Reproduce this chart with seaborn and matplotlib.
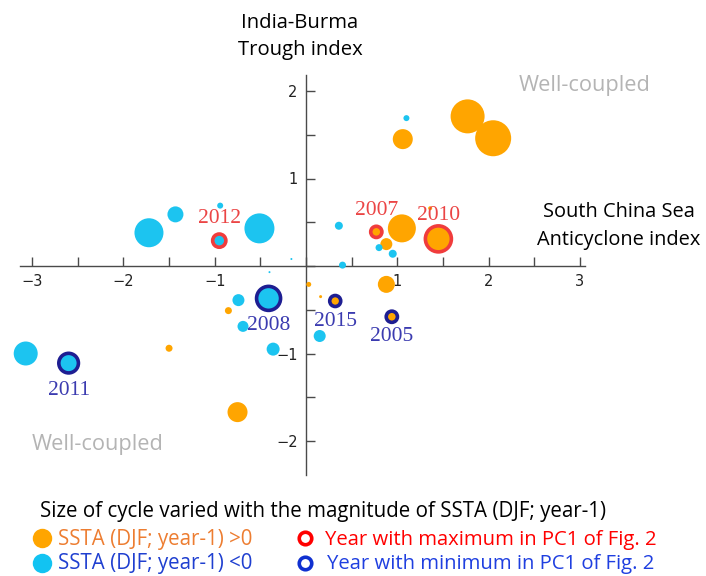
import numpy as np
import pandas as pd
import matplotlib
matplotlib.use("Agg")
import matplotlib.pyplot as plt
import seaborn as sns
from matplotlib.lines import Line2D

# ---------------- data ----------------
# South China Sea Anticyclone index (x), India-Burma Trough index (y),
# SSTA (DJF; year-1) (sign -> colour, magnitude -> circle size)
sca_index = [1.77, 2.05, 1.06, 1.05, 1.36, 0.88, 0.88, 0.03, 0.16, -0.85, -1.50, -0.75,
             0.77, 1.45, 0.32, 0.94,
             -1.72, -1.43, -0.94, -0.51, -0.16, -0.40, 0.36, 0.40, 1.10, 0.80, 0.95,
             -0.74, -0.69, 0.15, -0.36, -3.07,
             -0.95, -0.41, -2.60]
ibt_index = [1.71, 1.46, 1.45, 0.43, 0.66, 0.25, -0.21, -0.21, -0.35, -0.51, -0.94, -1.67,
             0.39, 0.31, -0.40, -0.58,
             0.38, 0.59, 0.69, 0.43, 0.08, -0.07, 0.46, 0.01, 1.69, 0.21, 0.14,
             -0.39, -0.69, -0.80, -0.95, -1.00,
             0.29, -0.37, -1.11]
ssta = [1.7, 1.8, 1.0, 1.4, 0.2, 0.6, 0.85, 0.25, 0.15, 0.35, 0.35, 1.0,
        0.56, 1.3, 0.55, 0.56,
        -1.45, -0.8, -0.3, -1.5, -0.1, -0.1, -0.4, -0.35, -0.3, -0.35, -0.4,
        -0.6, -0.55, -0.6, -0.65, -1.2,
        -0.66, -1.2, -0.98]
pc1_extreme = [""] * 12 + ["max", "max", "min", "min"] + [""] * 16 + ["max", "min", "min"]
year_label = [""] * 12 + ["2007", "2010", "2015", "2005"] + [""] * 16 + ["2012", "2008", "2011"]

x_ticks = [-3, -2, -1, 0, 1, 2, 3]
x_ticklabels = ["\u22123", "\u22122", "\u22121", "", "1", "2", "3"]
y_ticks = [-2, -1, 0, 1, 2]
y_ticklabels = ["\u22122", "\u22121", "", "1", "2"]

# ---------------- style ----------------
ORANGE = "#FFA500"
CYAN = "#1CC4F0"
RING_MAX = "#F03C3C"
RING_MIN = "#1E1E92"
LAB_MAX = "#EB4545"
LAB_MIN = "#3B3BB0"
AXC = "#4a4a4a"

sns.set_theme(style="white")
plt.rcParams["font.family"] = ["Open Sans", "DejaVu Sans"]

W, H = 706, 576
fig = plt.figure(figsize=(W / 100, H / 100), dpi=100)

x0px, ux = 306.0, 91.3
y0px, uy = 266.0, 87.5
L, R, T, B = 15, 600, 70, 480
ax = fig.add_axes([L / W, 1 - B / H, (R - L) / W, (B - T) / H])
ax.set_xlim((L - x0px) / ux, (R - x0px) / ux)
ax.set_ylim((y0px - B) / uy, (y0px - T) / uy)
ax.patch.set_alpha(0)

df = pd.DataFrame({"sca": sca_index, "ibt": ibt_index, "ssta": ssta,
                   "pc1": pc1_extreme, "year": year_label})
df["sign"] = np.where(df["ssta"] > 0, "pos", "neg")
df["mag2"] = df["ssta"] ** 2
M = df["mag2"].max()
K = (20 * 0.72) ** 2  # area (pt^2) per unit SSTA^2 -> diameter ~20 px per unit
sizes = (0, K * M)
size_norm = (0, M)

sns.scatterplot(data=df, x="sca", y="ibt", hue="sign",
                palette={"pos": ORANGE, "neg": CYAN},
                size="mag2", sizes=sizes, size_norm=size_norm,
                linewidth=0, legend=False, ax=ax, zorder=3, clip_on=False)

for kind, col in [("max", RING_MAX), ("min", RING_MIN)]:
    sub = df[df["pc1"] == kind]
    sns.scatterplot(data=sub, x="sca", y="ibt", size="mag2", sizes=sizes,
                    size_norm=size_norm, facecolor="none", edgecolor=col,
                    linewidth=2.6, legend=False, ax=ax, zorder=4, clip_on=False)

label_offset_px = {"2012": 22, "2007": 21, "2010": 23,
                   "2008": -27, "2011": -27, "2015": -20, "2005": -20}
for _, r in df[df["year"] != ""].iterrows():
    col = LAB_MAX if r["pc1"] == "max" else LAB_MIN
    ax.annotate(r["year"], (r["sca"], r["ibt"]),
                xytext=(0, label_offset_px[r["year"]]), textcoords="offset pixels",
                ha="center", va="center", color=col, fontsize=15.5,
                family="Liberation Serif", zorder=5)

# axes through the origin
for s in ["top", "right"]:
    ax.spines[s].set_visible(False)
for s in ["left", "bottom"]:
    ax.spines[s].set_position(("data", 0))
    ax.spines[s].set_color(AXC)
    ax.spines[s].set_linewidth(1.0)
    ax.spines[s].set_zorder(2)
ax.spines["bottom"].set_bounds(-3.13, 3.06)
ax.spines["left"].set_bounds(-2.39, 2.18)

ax.set_xticks(x_ticks)
ax.set_xticklabels(x_ticklabels)
ax.set_yticks(y_ticks)
ax.set_yticklabels(y_ticklabels)
ax.set_xticks(np.arange(-2.5, 3.0, 1.0), minor=True)
ax.set_yticks(np.arange(-1.5, 2.0, 1.0), minor=True)
ax.tick_params(which="both", direction="in", length=6.2, width=1.0, color=AXC,
               bottom=True, left=True, top=False, right=False)
ax.tick_params(which="major", pad=6, labelsize=10.5, labelcolor="#222222")
for t in ax.get_xticklabels() + ax.get_yticklabels():
    t.set_family("DejaVu Sans")
ax.set_xlabel("")
ax.set_ylabel("")
ax.grid(False)

# ---------------- annotation texts ----------------
def ft(xp, yp, s, **kw):
    fig.text(xp / W, 1 - yp / H, s, **kw)

ft(300, 28, "India-Burma", ha="center", va="baseline", fontsize=14.6, color="black")
ft(300, 55, "Trough index", ha="center", va="baseline", fontsize=14.6, color="black")
ft(619, 217, "South China Sea", ha="center", va="baseline", fontsize=14.4, color="black")
ft(619, 245, "Anticyclone index", ha="center", va="baseline", fontsize=14.4, color="black")
ft(519, 91, "Well-coupled", ha="left", va="baseline", fontsize=15.7, color="#B4B4B4")
ft(32, 450, "Well-coupled", ha="left", va="baseline", fontsize=15.7, color="#B4B4B4")

# ---------------- legend ----------------
ft(40, 517, "Size of cycle varied with the magnitude of SSTA (DJF; year-1)",
   ha="left", va="baseline", fontsize=14.8, color="black")
ft(58, 545, "SSTA (DJF; year-1) >0", ha="left", va="baseline", fontsize=14.8, color="#ED7D31")
ft(58, 569, "SSTA (DJF; year-1) <0", ha="left", va="baseline", fontsize=14.8, color="#1F3FD0")
ft(325, 545, "Year with maximum in PC1 of Fig. 2", ha="left", va="baseline", fontsize=14.6, color="#FF0000")
ft(327, 569, "Year with minimum in PC1 of Fig. 2", ha="left", va="baseline", fontsize=14.6, color="#1F3FE0")

legend_marks = [(42, 538, ORANGE, ORANGE, 14.0, 0),
                (42, 563, "#12C3F2", "#12C3F2", 14.0, 0),
                (305, 538, "none", "#FF0000", 9.0, 2.6),
                (305, 563, "none", "#1030D0", 9.0, 2.6)]
for xp, yp, fc, ec, ms, mew in legend_marks:
    fig.add_artist(Line2D([xp / W], [1 - yp / H], transform=fig.transFigure,
                          marker="o", markersize=ms, markerfacecolor=fc,
                          markeredgecolor=ec, markeredgewidth=mew, linestyle="none"))

fig.savefig("out.png", dpi=100)
